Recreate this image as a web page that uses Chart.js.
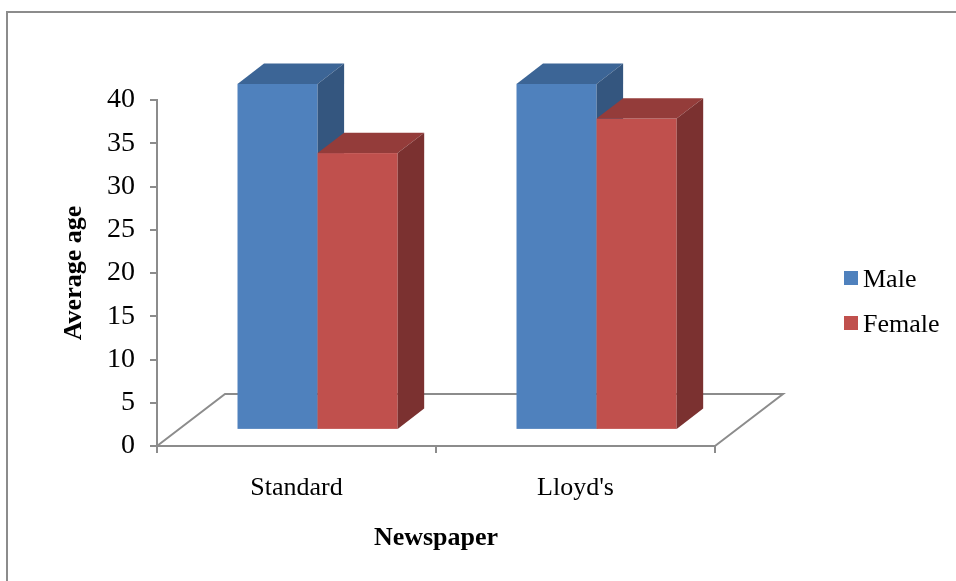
<!DOCTYPE html>
<html>
<head>
<meta charset="utf-8">
<script src="https://cdn.jsdelivr.net/npm/chart.js@4.4.0/dist/chart.umd.min.js"></script>
<style>
html, body { margin: 0; padding: 0; background: #fff; }
canvas { display: block; }
</style>
</head>
<body>
<canvas id="chart" width="956" height="581"></canvas>
<script>
// data
const categories = ['Standard', "Lloyd's"];
const seriesNames = ['Male', 'Female'];
const maleValues = [40, 40];
const femaleValues = [32, 36];
const yMin = 0, yMax = 40, yStep = 5;

// styles
const faceColors = [
    { front: '#4F81BD', top: '#3C6596', side: '#34567F' },
    { front: '#C0504D', top: '#943C3A', side: '#7B3130' }
];
const lineGray = '#8c8c8c';
const serif = '"Liberation Serif", "Times New Roman", serif';

// 3d look: depth of the floor and where the bars sit in it
const DEPTH = { x: 68, y: 52 };
const BAR_FRONT = 0.31;
const BAR_DEPTH = 0.39;

const box3d = {
    id: 'box3d',
    beforeDraw(chart) {
        const ctx = chart.ctx;
        ctx.save();
        ctx.strokeStyle = lineGray;
        ctx.lineWidth = 2;
        ctx.beginPath();
        ctx.moveTo(7, chart.height);
        ctx.lineTo(7, 12);
        ctx.lineTo(chart.width, 12);
        ctx.stroke();
        ctx.restore();
    },
    beforeDatasetsDraw(chart) {
        const ctx = chart.ctx;
        const a = chart.chartArea;
        const y0 = chart.scales.y.getPixelForValue(0);
        ctx.save();
        // floor
        ctx.strokeStyle = lineGray;
        ctx.lineWidth = 2;
        ctx.beginPath();
        ctx.moveTo(a.left, y0);
        ctx.lineTo(a.left + DEPTH.x, y0 - DEPTH.y);
        ctx.lineTo(a.right + DEPTH.x, y0 - DEPTH.y);
        ctx.lineTo(a.right, y0);
        ctx.stroke();

        const ox = DEPTH.x * BAR_FRONT, oy = DEPTH.y * BAR_FRONT;
        const dx = DEPTH.x * BAR_DEPTH, dy = DEPTH.y * BAR_DEPTH;
        categories.forEach((c, i) => {
            chart.data.datasets.forEach((ds, j) => {
                const bar = chart.getDatasetMeta(j).data[i];
                const col = faceColors[j];
                const l = bar.x - bar.width / 2 + ox;
                const r = bar.x + bar.width / 2 + ox;
                const t = bar.y - oy;
                const b = bar.base - oy;
                // front
                ctx.fillStyle = col.front;
                ctx.fillRect(l, t, r - l, b - t);
                // top
                ctx.fillStyle = col.top;
                ctx.beginPath();
                ctx.moveTo(l, t);
                ctx.lineTo(l + dx, t - dy);
                ctx.lineTo(r + dx, t - dy);
                ctx.lineTo(r, t);
                ctx.closePath();
                ctx.fill();
                // side
                ctx.fillStyle = col.side;
                ctx.beginPath();
                ctx.moveTo(r, t);
                ctx.lineTo(r + dx, t - dy);
                ctx.lineTo(r + dx, b - dy);
                ctx.lineTo(r, b);
                ctx.closePath();
                ctx.fill();
            });
        });
        ctx.restore();
        return false;
    },
    afterDraw(chart) {
        // legend on the right
        const ctx = chart.ctx;
        ctx.save();
        ctx.font = '26px ' + serif;
        ctx.textBaseline = 'alphabetic';
        chart.data.datasets.forEach((ds, i) => {
            const y = 271 + i * 45;
            ctx.fillStyle = ds.backgroundColor;
            ctx.fillRect(844, y, 14, 14);
            ctx.fillStyle = '#000';
            ctx.fillText(ds.label, 863, y + 16);
        });
        ctx.restore();
    }
};

new Chart(document.getElementById('chart'), {
    type: 'bar',
    data: {
        labels: categories,
        datasets: [
            { label: seriesNames[0], data: maleValues, backgroundColor: faceColors[0].front },
            { label: seriesNames[1], data: femaleValues, backgroundColor: faceColors[1].front }
        ]
    },
    options: {
        responsive: false,
        animation: false,
        layout: { padding: { left: 0, top: 100, right: 241, bottom: 0 } },
        datasets: { bar: { barPercentage: 1, categoryPercentage: 0.574 } },
        plugins: {
            legend: { display: false },
            tooltip: { enabled: false }
        },
        scales: {
            x: {
                grid: { drawOnChartArea: false, tickLength: 7, color: lineGray, lineWidth: 2 },
                border: { color: lineGray, width: 2 },
                ticks: { color: '#000', font: { family: serif, size: 26 }, padding: 20 },
                title: {
                    display: true, text: 'Newspaper', color: '#000',
                    font: { family: serif, size: 26, weight: 'bold', lineHeight: 1.2 },
                    padding: { top: 0, bottom: 27 }
                },
                afterFit(s) { s.height = 135; }
            },
            y: {
                min: yMin,
                max: yMax,
                grid: { drawOnChartArea: false, tickLength: 7, color: lineGray, lineWidth: 2 },
                border: { color: lineGray, width: 2 },
                ticks: { stepSize: yStep, color: '#000', font: { family: serif, size: 28 }, padding: 15 },
                title: {
                    display: true, text: 'Average age', color: '#000',
                    font: { family: serif, size: 26, weight: 'bold', lineHeight: 1.2 },
                    padding: { top: 59, bottom: 0 }
                },
                afterFit(s) { s.width = 157; }
            }
        }
    },
    plugins: [box3d]
});
</script>
</body>
</html>
